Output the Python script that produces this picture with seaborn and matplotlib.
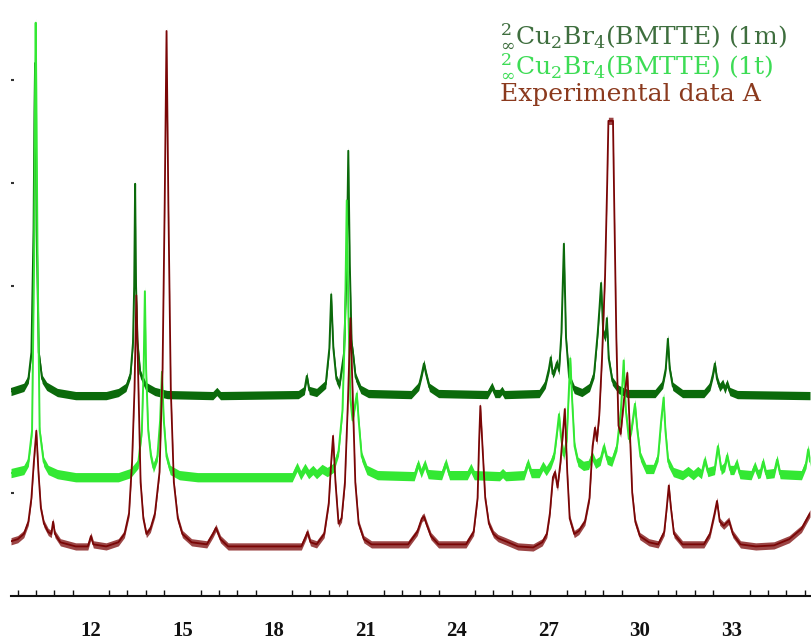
import matplotlib
matplotlib.use("Agg")
import matplotlib.pyplot as plt
from matplotlib.ticker import MultipleLocator
import pandas as pd
import seaborn as sns

# Powder patterns: (2theta, intensity, offset units) vertices of each trace
pattern_1m = [
    (9.38, 1.98), (9.80, 2.02), (9.95, 2.10), (10.05, 2.36), (10.12, 3.55), (10.15, 4.70),
    (10.17, 5.16), (10.19, 4.70), (10.22, 3.55), (10.29, 2.36), (10.40, 2.10), (10.55, 2.03),
    (10.90, 1.97), (11.50, 1.94), (12.50, 1.94),
    (12.90, 1.97), (13.15, 2.02), (13.30, 2.15), (13.38, 2.45), (13.42, 3.00), (13.45, 3.99),
    (13.48, 3.00), (13.53, 2.45), (13.62, 2.15), (13.80, 2.03), (14.10, 1.98), (14.50, 1.95),
    (16.00, 1.94), (16.13, 1.98), (16.25, 1.94),
    (18.80, 1.95), (19.00, 1.99), (19.08, 2.13), (19.16, 1.99), (19.40, 1.97),
    (19.70, 2.05), (19.82, 2.40), (19.88, 2.92), (19.95, 2.40), (20.05, 2.10), (20.15, 2.04),
    (20.30, 2.35), (20.39, 3.20), (20.44, 4.31), (20.49, 3.20), (20.55, 2.45), (20.60, 2.34),
    (20.68, 2.12), (20.85, 2.00), (21.10, 1.96),
    (22.50, 1.95), (22.75, 2.03), (22.85, 2.15), (22.92, 2.25), (22.99, 2.15), (23.10, 2.02),
    (23.40, 1.96),
    (25.00, 1.95), (25.15, 2.03), (25.25, 1.96), (25.40, 1.96), (25.48, 1.99), (25.56, 1.95),
    (26.70, 1.96), (26.90, 2.05), (27.02, 2.20), (27.08, 2.31), (27.14, 2.15), (27.20, 2.18),
    (27.28, 2.26), (27.35, 2.18), (27.43, 2.55), (27.51, 3.41), (27.58, 2.50), (27.68, 2.12),
    (27.85, 2.00), (28.10, 1.97),
    (28.35, 2.02), (28.50, 2.15), (28.62, 2.55), (28.68, 2.80), (28.73, 3.03), (28.80, 2.55),
    (28.87, 2.50), (28.92, 2.69), (28.98, 2.30), (29.10, 2.08), (29.30, 2.00), (29.60, 1.96),
    (30.50, 1.96), (30.75, 2.05), (30.85, 2.20), (30.92, 2.49), (30.98, 2.20), (31.08, 2.03),
    (31.40, 1.96),
    (32.10, 1.96), (32.30, 2.03), (32.40, 2.15), (32.46, 2.25), (32.53, 2.10), (32.62, 2.02),
    (32.72, 2.06), (32.79, 2.00), (32.86, 2.06), (32.95, 1.98), (33.20, 1.95),
    (35.58, 1.94),
]

pattern_1t = [
    (9.38, 1.19), (9.80, 1.22), (9.95, 1.30), (10.07, 1.60), (10.14, 3.30), (10.17, 4.90),
    (10.19, 5.55), (10.21, 4.90), (10.25, 3.30), (10.32, 1.60), (10.45, 1.30), (10.60, 1.22),
    (10.90, 1.18), (11.50, 1.15),
    (12.90, 1.15), (13.30, 1.19), (13.55, 1.28), (13.67, 1.60), (13.73, 2.20), (13.77, 2.95),
    (13.81, 2.20), (13.88, 1.60), (13.97, 1.35), (14.05, 1.24), (14.18, 1.35), (14.27, 1.70),
    (14.33, 2.17), (14.39, 1.70), (14.48, 1.35), (14.60, 1.22), (14.90, 1.17), (15.50, 1.15),
    (18.60, 1.15), (18.76, 1.25), (18.88, 1.17), (19.02, 1.24), (19.14, 1.18), (19.28, 1.22),
    (19.40, 1.18), (19.58, 1.23), (19.75, 1.20), (19.95, 1.24), (20.12, 1.40), (20.25, 1.80),
    (20.33, 2.60), (20.39, 3.83), (20.44, 2.80), (20.51, 1.90), (20.58, 1.70), (20.66, 1.85),
    (20.72, 1.96), (20.78, 1.70), (20.88, 1.35), (21.05, 1.22), (21.40, 1.17),
    (22.60, 1.16), (22.73, 1.28), (22.83, 1.19), (22.95, 1.28), (23.06, 1.18), (23.50, 1.17),
    (23.64, 1.29), (23.76, 1.17), (24.34, 1.17), (24.46, 1.24), (24.57, 1.17), (25.40, 1.16),
    (25.50, 1.19), (25.60, 1.16),
    (26.20, 1.17), (26.33, 1.29), (26.44, 1.19), (26.70, 1.19), (26.82, 1.26), (26.93, 1.21),
    (27.08, 1.28), (27.20, 1.38), (27.29, 1.60), (27.35, 1.76), (27.41, 1.55), (27.50, 1.36),
    (27.60, 1.50), (27.66, 1.90), (27.72, 2.30), (27.78, 1.90), (27.86, 1.45), (27.97, 1.30),
    (28.15, 1.26), (28.32, 1.27), (28.43, 1.36), (28.55, 1.28), (28.70, 1.31), (28.82, 1.45),
    (28.93, 1.32), (29.08, 1.30), (29.25, 1.45), (29.38, 1.80), (29.47, 2.28), (29.54, 1.80),
    (29.64, 1.52), (29.73, 1.62), (29.84, 1.86), (29.92, 1.60), (30.02, 1.35), (30.20, 1.23),
    (30.45, 1.23), (30.60, 1.35), (30.70, 1.70), (30.78, 1.92), (30.84, 1.60), (30.93, 1.30),
    (31.10, 1.20), (31.40, 1.17), (31.58, 1.21), (31.75, 1.17), (31.90, 1.21), (32.02, 1.18),
    (32.13, 1.32), (32.23, 1.20), (32.45, 1.22), (32.56, 1.45), (32.67, 1.22), (32.78, 1.25),
    (32.86, 1.36), (32.96, 1.22), (33.08, 1.22), (33.18, 1.29), (33.28, 1.18), (33.65, 1.17),
    (33.77, 1.26), (33.87, 1.18), (33.95, 1.19), (34.04, 1.30), (34.14, 1.18), (34.40, 1.19),
    (34.50, 1.32), (34.60, 1.18), (35.30, 1.17), (35.45, 1.28), (35.52, 1.42), (35.58, 1.30),
]

pattern_exp = [
    (9.38, 0.53), (9.60, 0.55), (9.80, 0.60), (9.95, 0.72), (10.05, 0.95), (10.13, 1.30),
    (10.21, 1.60), (10.28, 1.20), (10.36, 0.85), (10.46, 0.70), (10.60, 0.62), (10.70, 0.60),
    (10.76, 0.72), (10.82, 0.60), (11.00, 0.52), (11.50, 0.48), (11.90, 0.48), (12.00, 0.58),
    (12.08, 0.50), (12.50, 0.48),
    (12.90, 0.52), (13.10, 0.60), (13.25, 0.80), (13.35, 1.30), (13.43, 2.00), (13.49, 2.91),
    (13.56, 2.00), (13.63, 1.10), (13.72, 0.75), (13.82, 0.60), (13.95, 0.65), (14.10, 0.80),
    (14.25, 1.20), (14.35, 2.20), (14.42, 3.80), (14.48, 5.47), (14.54, 3.80), (14.62, 2.00),
    (14.72, 1.10), (14.85, 0.75), (15.00, 0.60), (15.30, 0.52), (15.80, 0.50), (16.00, 0.60),
    (16.10, 0.66), (16.25, 0.55), (16.50, 0.48),
    (18.90, 0.48), (19.05, 0.58), (19.10, 0.62), (19.20, 0.52), (19.40, 0.50), (19.65, 0.60),
    (19.80, 0.90), (19.88, 1.30), (19.94, 1.55), (20.02, 1.10), (20.12, 0.70), (20.22, 0.75),
    (20.33, 1.10), (20.43, 1.90), (20.51, 2.69), (20.59, 1.90), (20.67, 1.10), (20.78, 0.70),
    (20.95, 0.55), (21.20, 0.50),
    (22.40, 0.50), (22.70, 0.62), (22.85, 0.75), (22.92, 0.77), (23.00, 0.70), (23.15, 0.58),
    (23.40, 0.50), (24.30, 0.50), (24.55, 0.62), (24.68, 0.95), (24.73, 1.50), (24.77, 1.84),
    (24.83, 1.50), (24.93, 0.95), (25.05, 0.70), (25.20, 0.60), (25.35, 0.56), (25.60, 0.53),
    (26.00, 0.48), (26.50, 0.47), (26.80, 0.52), (26.95, 0.60), (27.05, 0.80), (27.15, 1.15),
    (27.22, 1.20), (27.30, 1.05), (27.40, 1.30), (27.47, 1.55), (27.54, 1.81), (27.62, 1.20),
    (27.70, 0.75), (27.85, 0.60), (28.00, 0.63), (28.20, 0.72), (28.35, 0.95), (28.45, 1.45),
    (28.53, 1.63), (28.59, 1.50), (28.67, 1.75), (28.76, 2.30), (28.86, 3.10), (28.93, 4.00),
    (28.97, 4.60), (29.12, 4.60), (29.16, 3.80), (29.23, 2.50), (29.30, 1.65), (29.37, 1.57),
    (29.48, 1.90), (29.59, 2.16), (29.66, 1.70), (29.75, 1.00), (29.85, 0.72), (30.00, 0.58),
    (30.30, 0.52), (30.60, 0.50), (30.80, 0.62), (30.88, 0.85), (30.95, 1.07), (31.02, 0.85),
    (31.12, 0.60), (31.40, 0.50), (32.10, 0.50), (32.30, 0.60), (32.45, 0.80), (32.53, 0.92),
    (32.62, 0.72), (32.75, 0.68), (32.92, 0.73), (33.05, 0.60), (33.30, 0.50), (33.80, 0.48),
    (34.40, 0.49), (34.90, 0.55), (35.30, 0.65), (35.58, 0.80),
]

legend_labels = [
    r"${}^{2}_{\infty}$Cu$_2$Br$_4$(BMTTE) (1m)",
    r"${}^{2}_{\infty}$Cu$_2$Br$_4$(BMTTE) (1t)",
    "Experimental data A",
]
x_ticks = [12, 15, 18, 21, 24, 27, 30, 33]

line_colors = ["#0b6a0b", "#33e833", "#7a0606"]
text_colors = ["#3e6e3e", "#3ddc55", "#8b3a1e"]

sns.set_theme(style="white")
plt.rcParams["mathtext.fontset"] = "dejavuserif"

fig = plt.figure(figsize=(8.12, 6.4), dpi=100)
ax = fig.add_axes([11 / 812, 44 / 640, 799 / 812, 596 / 640])

frames = []
for name, pts in zip(["1m", "1t", "exp"], [pattern_1m, pattern_1t, pattern_exp]):
    df = pd.DataFrame(pts, columns=["two_theta", "intensity"])
    df["trace"] = name
    frames.append(df)
data = pd.concat(frames, ignore_index=True)

# half-thickness of the scatter band drawn around each trace, and its opacity
band = [0.04, 0.045, 0.035]
band_alpha = [1.0, 1.0, 0.75]
widths = [1.4, 1.4, 1.3]
for (name, sub), color, b, a, lw in zip(data.groupby("trace", sort=False), line_colors,
                                         band, band_alpha, widths):
    ax.fill_between(sub["two_theta"], sub["intensity"] - b, sub["intensity"] + b,
                    color=color, lw=0, alpha=a)
    sns.lineplot(data=sub, x="two_theta", y="intensity", ax=ax, color=color,
                 lw=lw, sort=False, estimator=None, legend=False)

ax.set_xlim(9.38, 35.58)
ax.set_ylim(0, 5.77)
ax.set_xlabel("")
ax.set_ylabel("")
for side in ["top", "right", "left"]:
    ax.spines[side].set_visible(False)
ax.spines["bottom"].set_linewidth(1.5)
ax.spines["bottom"].set_color("#111111")

ax.set_xticks(x_ticks)
ax.xaxis.set_minor_locator(MultipleLocator(0.6))
ax.tick_params(axis="x", which="major", direction="in", length=7, width=1.6,
               color="#111111", pad=18, labelsize=15)
ax.tick_params(axis="x", which="minor", direction="in", length=4, width=1.0,
               color="#111111", bottom=True)
for lab in ax.get_xticklabels():
    lab.set_fontfamily("Liberation Serif")
    lab.set_fontweight("bold")
    lab.set_color("#111111")

ax.set_yticks([1, 2, 3, 4, 5])
ax.set_yticklabels([])
ax.tick_params(axis="y", which="major", direction="in", length=2, width=1.5,
               color="#333333", left=True)

for label, color, ypix in zip(legend_labels, text_colors, [43, 73, 101]):
    fig.text(500 / 812, 1 - ypix / 640, label, color=color, fontsize=18,
             family="DejaVu Serif", ha="left", va="baseline")

fig.savefig("out.png", dpi=100)
